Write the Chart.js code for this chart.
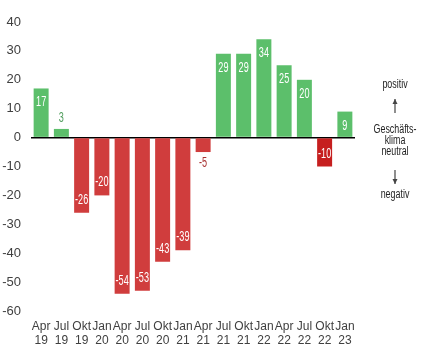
<!DOCTYPE html>
<html>
<head>
<meta charset="utf-8">
<script src="https://cdn.jsdelivr.net/npm/chart.js@4"></script>
<style>
  html, body { margin: 0; padding: 0; background: #fff; }
  #wrap { width: 433px; height: 349px; position: relative; }
</style>
</head>
<body>
<div id="wrap"><canvas id="chart"></canvas></div>
<script>
const quarters = ['Apr', 'Jul', 'Okt', 'Jan', 'Apr', 'Jul', 'Okt', 'Jan', 'Apr', 'Jul', 'Okt', 'Jan', 'Apr', 'Jul', 'Okt', 'Jan'];
const years = ['19', '19', '19', '20', '20', '20', '20', '21', '21', '21', '21', '22', '22', '22', '22', '23'];
const klima = [17, 3, -26, -20, -54, -53, -43, -39, -5, 29, 29, 34, 25, 20, -10, 9];
const yTicks = [40, 30, 20, 10, 0, -10, -20, -30, -40, -50, -60];
const sideNotes = ['positiv', 'Geschäfts-', 'klima', 'neutral', 'negativ'];

const GREEN = '#5cbf6b';
const RED = '#d03d3d';

// draw narrow text by squeezing a normal font
function narrowText(ctx, txt, x, y, squeeze) {
    ctx.save();
    ctx.translate(x, y);
    ctx.scale(squeeze, 1);
    ctx.fillText(txt, 0, 0);
    ctx.restore();
}

// value labels on the bars, plus the little legend on the right
const barLabels = {
    id: 'barLabels',
    afterDatasetsDraw(chart) {
        const ctx = chart.ctx;
        const meta = chart.getDatasetMeta(0);
        ctx.save();
        ctx.font = '14px "Liberation Sans", Arial, sans-serif';
        ctx.textAlign = 'center';
        ctx.textBaseline = 'alphabetic';
        meta.data.forEach((bar, i) => {
            const v = klima[i];
            const txt = String(v);
            if (Math.abs(v) < 8) {
                // too small, write outside
                ctx.fillStyle = v >= 0 ? '#4f9c5c' : '#a83232';
                narrowText(ctx, txt, bar.x, v >= 0 ? bar.y - 7 : bar.y + 15, 0.65);
            } else {
                ctx.fillStyle = '#fff';
                narrowText(ctx, txt, bar.x, v >= 0 ? bar.y + 18 : bar.y - 9, 0.65);
            }
        });

        // side note
        const cx = 395;
        ctx.fillStyle = '#222';
        ctx.font = '12px "Liberation Sans", Arial, sans-serif';
        ctx.textBaseline = 'middle';
        narrowText(ctx, sideNotes[0], cx, 85, 0.74);
        narrowText(ctx, sideNotes[1], cx, 130, 0.74);
        narrowText(ctx, sideNotes[2], cx, 141, 0.74);
        narrowText(ctx, sideNotes[3], cx, 152, 0.74);
        narrowText(ctx, sideNotes[4], cx, 195, 0.74);

        const arrow = (x, y1, y2) => {
            ctx.strokeStyle = '#444';
            ctx.fillStyle = '#444';
            ctx.lineWidth = 1.2;
            ctx.beginPath();
            ctx.moveTo(x, y1);
            ctx.lineTo(x, y2);
            ctx.stroke();
            const d = y2 < y1 ? 1 : -1;
            ctx.beginPath();
            ctx.moveTo(x, y2);
            ctx.lineTo(x - 2.5, y2 + d * 5);
            ctx.lineTo(x + 2.5, y2 + d * 5);
            ctx.closePath();
            ctx.fill();
        };
        arrow(cx, 113, 99);
        arrow(cx, 170, 184);
        ctx.restore();
    }
};

new Chart(document.getElementById('chart'), {
    type: 'bar',
    data: {
        labels: quarters.map((q, i) => [q, years[i]]),
        datasets: [{
            data: klima,
            backgroundColor: klima.map((v, i) => v >= 0 ? GREEN : (i === 14 ? '#c61f1f' : RED)),
            borderWidth: 0,
            categoryPercentage: 1,
            barPercentage: 0.74
        }]
    },
    options: {
        responsive: true,
        maintainAspectRatio: false,
        animation: false,
        layout: {
            padding: { left: 2, right: 78, top: 22, bottom: 2 }
        },
        plugins: {
            legend: { display: false },
            tooltip: { enabled: false }
        },
        scales: {
            x: {
                grid: { display: false, drawTicks: false },
                border: { display: false },
                afterFit: scale => { scale.height = 36; },
                ticks: {
                    color: '#404040',
                    font: { family: '"Liberation Sans", Arial, sans-serif', size: 12, lineHeight: 1.17 },
                    maxRotation: 0,
                    autoSkip: false,
                    padding: 9
                }
            },
            y: {
                min: -60,
                max: 40,
                afterBuildTicks: axis => {
                    axis.ticks = yTicks.map(v => ({ value: v }));
                },
                afterFit: scale => { scale.width = 29; },
                grid: {
                    drawTicks: false,
                    color: c => c.tick && c.tick.value === 0 ? '#000' : 'rgba(0,0,0,0)',
                    lineWidth: 1.5
                },
                border: { display: false },
                ticks: {
                    color: '#404040',
                    font: { family: '"Liberation Sans", Arial, sans-serif', size: 13 },
                    padding: 10
                }
            }
        }
    },
    plugins: [barLabels]
});
</script>
</body>
</html>
